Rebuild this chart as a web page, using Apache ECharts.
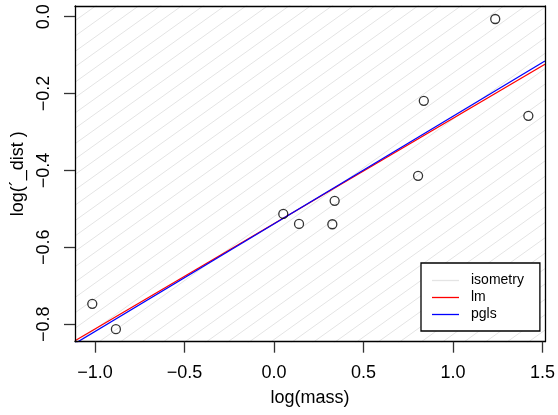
<!DOCTYPE html>
<html>
<head>
<meta charset="utf-8">
<script src="https://cdn.jsdelivr.net/npm/echarts@6/dist/echarts.min.js"></script>
<style>html,body{margin:0;padding:0;background:#fff}#c{width:558px;height:415px}</style>
</head>
<body>
<div id="c"></div>
<script>
// data
const logMass = [-1.015, -0.883, 0.052, 0.140, 0.339, 0.326, 0.837, 1.421, 0.805, 1.236];
const logDist = [-0.747, -0.813, -0.513, -0.539, -0.479, -0.540, -0.219, -0.258, -0.414, -0.006];
const lmCoef = [-0.5385, 0.274];      // intercept, slope
const pglsCoef = [-0.539, 0.280];
const isoSlope = 1 / 3;
const isoStep = 0.04;
const xTicks = [-1.0, -0.5, 0.0, 0.5, 1.0, 1.5];
const yTicks = [-0.8, -0.6, -0.4, -0.2, 0.0];
const xRange = [-1.1115, 1.5137];
const yRange = [-0.8455, 0.0278];

const FONT = 'Liberation Sans, Arial, Helvetica, sans-serif';
const fmt = v => v.toFixed(1).replace('-', '\u2212');
function lineData(a, b) {
  return [[xRange[0], a + b * xRange[0]], [xRange[1], a + b * xRange[1]]];
}
const series = [];
for (let k = -60; k <= 30; k++) {
  const a = k * isoStep;
  series.push({
    name: 'isometry', type: 'line', data: lineData(a, isoSlope), symbol: 'none',
    silent: true, animation: false, z: 1,
    lineStyle: { color: '#e4e4e4', width: 1 }, itemStyle: { color: '#e4e4e4' }
  });
}
series.push({
  name: 'lm', type: 'line', data: lineData(lmCoef[0], lmCoef[1]), symbol: 'none',
  animation: false, z: 3, lineStyle: { color: '#ff0000', width: 1.3 }, itemStyle: { color: '#ff0000' }
});
series.push({
  name: 'pgls', type: 'line', data: lineData(pglsCoef[0], pglsCoef[1]), symbol: 'none',
  animation: false, z: 4, lineStyle: { color: '#0000ff', width: 1.3 }, itemStyle: { color: '#0000ff' }
});
series.push({
  name: 'points', type: 'scatter', data: logMass.map((x, i) => [x, logDist[i]]),
  symbol: 'circle', symbolSize: 9, animation: false, z: 5,
  itemStyle: { color: 'rgba(0,0,0,0)', borderColor: '#000', borderWidth: 1.3 }
});

const frameLine = { show: true, onZero: false, lineStyle: { color: '#000', width: 1.3 } };
const bareAxis = {
  type: 'value', z: 10, axisLine: frameLine, axisTick: { show: false },
  axisLabel: { show: false }, splitLine: { show: false }
};

const chart = echarts.init(document.getElementById('c'), null, { renderer: 'canvas' });
chart.setOption({
  backgroundColor: '#fff',
  animation: false,
  textStyle: { fontFamily: FONT },
  grid: { left: 75, top: 6, right: 12.3, bottom: 73.3, show: false },
  xAxis: [{
    type: 'value', min: xRange[0], max: xRange[1], position: 'bottom', z: 10,
    name: 'log(mass)', nameLocation: 'middle', nameGap: 47,
    nameTextStyle: { fontSize: 18, color: '#000', fontFamily: FONT },
    axisLine: frameLine,
    splitLine: { show: false },
    axisTick: { show: true, inside: false, length: 11, customValues: xTicks, lineStyle: { color: '#333', width: 1.3 } },
    axisLabel: { customValues: xTicks, formatter: fmt, fontSize: 18, color: '#000', margin: 22, fontFamily: FONT }
  }, Object.assign({ min: xRange[0], max: xRange[1], position: 'top' }, bareAxis)],
  yAxis: [{
    type: 'value', min: yRange[0], max: yRange[1], position: 'left', z: 10,
    name: 'log(\u00b4_dist )', nameLocation: 'middle', nameGap: 47, nameRotate: 90,
    nameTextStyle: { fontSize: 18, color: '#000', fontFamily: FONT },
    axisLine: frameLine,
    splitLine: { show: false },
    axisTick: { show: true, inside: false, length: 11, customValues: yTicks, lineStyle: { color: '#333', width: 1.3 } },
    axisLabel: { customValues: yTicks, formatter: fmt, fontSize: 18, color: '#000', margin: 22, rotate: 90, fontFamily: FONT }
  }, Object.assign({ min: yRange[0], max: yRange[1], position: 'right' }, bareAxis)],
  legend: {
    data: [
      { name: 'isometry', icon: 'rect', itemStyle: { color: '#e4e4e4' } },
      { name: 'lm', icon: 'rect', itemStyle: { color: '#ff0000' } },
      { name: 'pgls', icon: 'rect', itemStyle: { color: '#0000ff' } }
    ],
    orient: 'vertical', left: 421, top: 263, z: 20,
    backgroundColor: '#fff', borderColor: '#000', borderWidth: 1.3,
    padding: [9, 16, 8, 11], itemGap: 0, itemWidth: 27, itemHeight: 1.3,
    selectedMode: false,
    textStyle: { fontSize: 14, color: '#000', lineHeight: 17, fontFamily: FONT, padding: [0, 0, 0, 7] }
  },
  series: series
});
</script>
</body>
</html>
